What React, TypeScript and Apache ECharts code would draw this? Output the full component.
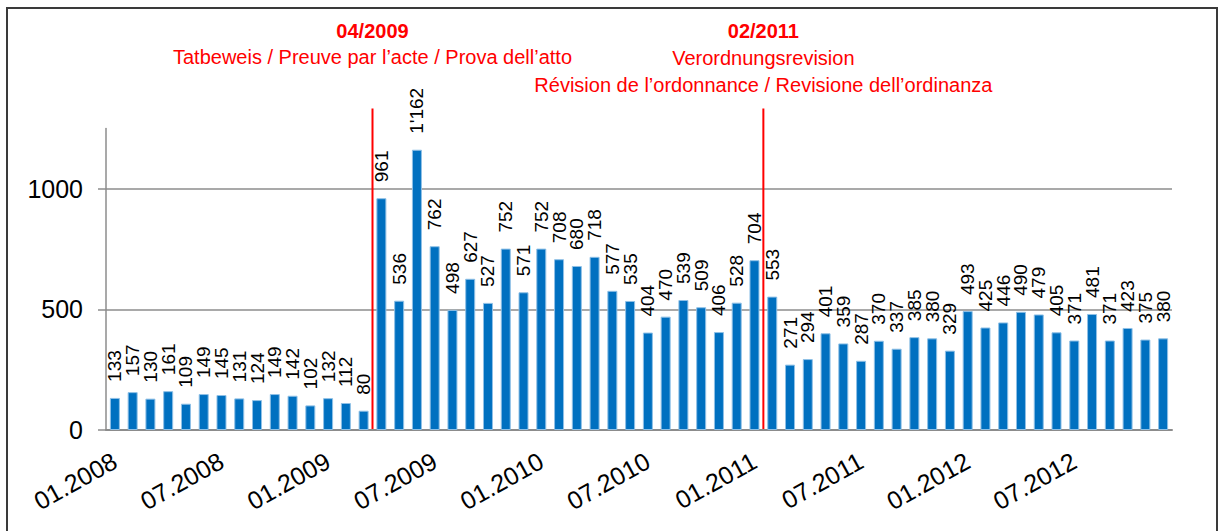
import React, { useEffect, useRef } from "react";
import * as echarts from "echarts";

const years = ["2008", "2009", "2010", "2011", "2012"];
const months = ["01", "02", "03", "04", "05", "06", "07", "08", "09", "10", "11", "12"];
const categories: string[] = [];
years.forEach((y) => months.forEach((m) => categories.push(m + "." + y)));

const values2008to0309 = [133, 157, 130, 161, 109, 149, 145, 131, 124, 149, 142, 102, 132, 112, 80];
const values0409to0111 = [961, 536, 1162, 762, 498, 627, 527, 752, 571, 752, 708, 680, 718, 577, 535, 404, 470, 539, 509, 406, 528, 704];
const values0211to1212 = [553, 271, 294, 401, 359, 287, 370, 337, 385, 380, 329, 493, 425, 446, 490, 479, 405, 371, 481, 371, 423, 375, 380];
const values = [...values2008to0309, ...values0409to0111, ...values0211to1212];

const yTicks = [0, 500, 1000];
const yMax = 1250;

const event1Index = 15; // 04.2009
const event1Title = "04/2009";
const event1Lines = ["Tatbeweis / Preuve par l\u2019acte / Prova dell\u2019atto"];
const event2Index = 37; // 02.2011
const event2Title = "02/2011";
const event2Lines = ["Verordnungsrevision", "R\u00e9vision de l\u2019ordonnance / Revisione dell\u2019ordinanza"];

const FONT = "'Liberation Sans', Arial, sans-serif";
const RED = "#ff0000";

function fmt(v: number): string {
  const s = String(v);
  return s.length > 3 ? s.slice(0, s.length - 3) + "'" + s.slice(-3) : s;
}

export default function App() {
  const ref = useRef<HTMLDivElement>(null);
  useEffect(() => {
    if (!ref.current) return;
    const chart = echarts.init(ref.current, undefined, { renderer: "svg" });
    chart.setOption({
      animation: false,
      textStyle: { fontFamily: FONT },
      grid: { left: 106, right: 46, top: 128.5, bottom: 101 },
      xAxis: {
        type: "category",
        data: categories,
        axisLine: { lineStyle: { color: "#8c8c8c", width: 2 } },
        axisTick: { show: false },
        axisLabel: {
          interval: 5,
          rotate: 29,
          margin: 29,
          fontSize: 25,
          color: "#000",
          fontFamily: FONT,
        },
      },
      yAxis: {
        type: "value",
        min: 0,
        max: yMax,
        axisLine: { show: true, lineStyle: { color: "#8c8c8c", width: 1.5 } },
        axisTick: { show: true, length: 8, customValues: yTicks, lineStyle: { color: "#8c8c8c", width: 1.5 } },
        axisLabel: {
          customValues: yTicks,
          fontSize: 25,
          color: "#000",
          margin: 23,
          fontFamily: FONT,
          formatter: (v: number) => String(v),
        },
        splitLine: { show: true, lineStyle: { color: "#8c8c8c", width: 1.5 } },
      },
      series: [
        {
          type: "bar",
          data: values,
          barWidth: 10,
          itemStyle: { color: "#0070c0", borderColor: "#8fc0e6", borderWidth: 1 },
          label: {
            show: true,
            position: "top",
            rotate: 90,
            align: "left",
            verticalAlign: "middle",
            distance: 16,
            fontSize: 19,
            color: "#000",
            fontFamily: FONT,
            formatter: (p: any) => fmt(p.value),
          },
        },
      ],
    });

    const cx = (i: number) => chart.convertToPixel({ xAxisIndex: 0 }, i) as number;
    const yPix = (v: number) => chart.convertToPixel({ yAxisIndex: 0 }, v) as number;
    const x1 = (cx(event1Index - 1) + cx(event1Index)) / 2;
    const x2 = (cx(event2Index - 1) + cx(event2Index)) / 2;
    const yTop = yPix(yMax) - 20;
    const yBottom = yPix(0);

    const textEl = (x: number, y: number, text: string, bold: boolean) => ({
      type: "text",
      x,
      y,
      style: {
        text,
        fill: RED,
        font: (bold ? "bold " : "") + "20px " + FONT,
        textAlign: "center",
        textVerticalAlign: "middle",
      },
    });

    chart.setOption({
      graphic: [
        {
          type: "rect",
          shape: { x: 7, y: 8, width: 1210, height: 600 },
          style: { fill: "none", stroke: "#3a3a3a", lineWidth: 2 },
          silent: true,
        },
        { type: "line", shape: { x1, y1: yTop, x2: x1, y2: yBottom }, style: { stroke: RED, lineWidth: 2 } },
        { type: "line", shape: { x1: x2, y1: yTop, x2, y2: yBottom }, style: { stroke: RED, lineWidth: 2 } },
        textEl(x1, 31, event1Title, true),
        ...event1Lines.map((t, i) => textEl(x1, 57 + i * 27, t, false)),
        textEl(x2, 31, event2Title, true),
        ...event2Lines.map((t, i) => textEl(x2, 58 + i * 27, t, false)),
      ],
    });

    return () => chart.dispose();
  }, []);
  return (
    <div
      ref={ref}
      style={{ position: "fixed", left: 0, top: 0, width: 1218, height: 531, background: "#fff" }}
    />
  );
}
